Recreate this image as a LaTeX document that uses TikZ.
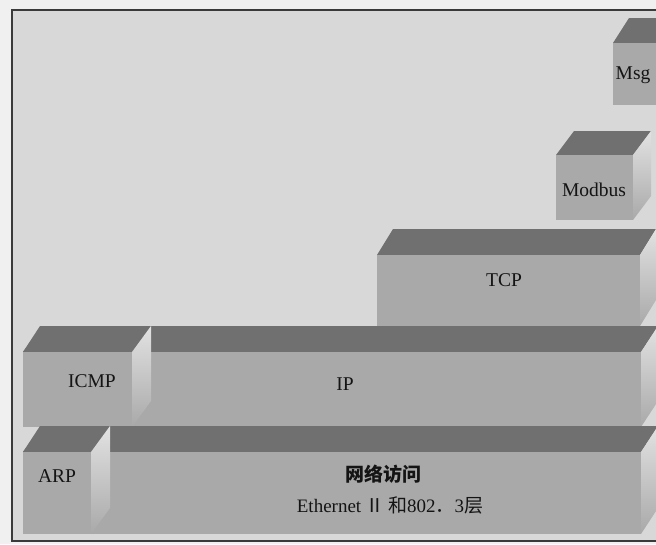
\documentclass[tikz,border=0pt]{standalone}
\usepackage{fontspec}
\setmainfont{Liberation Serif}
\newfontfamily\cjk{Noto Sans CJK SC}
\definecolor{bgcol}{HTML}{D8D8D8}
\definecolor{topcol}{HTML}{707070}
\definecolor{frontcol}{HTML}{A9A9A9}
\definecolor{sidecol}{HTML}{E2E2E2}
\definecolor{framecol}{HTML}{3A3A3A}
\definecolor{txtcol}{HTML}{141414}
\newcommand\mycuboid[6]{% x1 y1 x2 y2 dx dy (y grows downward)
  \fill[topcol] (#1,#2) -- (#1+#5,#2-#6) -- (#3+#5,#2-#6) -- (#3,#2) -- cycle;
  \shade[top color=sidecol,bottom color=frontcol] (#3,#2) -- (#3+#5,#2-#6) -- (#3+#5,#4-#6) -- (#3,#4) -- cycle;
  \fill[frontcol] (#1,#2) rectangle (#3,#4);
}
\tikzset{lbl/.style={text=txtcol,font=\fontsize{19.5}{23}\selectfont,inner sep=0pt}}
\begin{document}
\begin{tikzpicture}[x=1pt,y=-1pt]
\useasboundingbox (0,0) rectangle (656,544);
\clip (0,0) rectangle (656,544);
\fill[white!94!black] (0,0) rectangle (656,544);
\fill[bgcol] (12,10) rectangle (670,541);
% boxes, back to front
\mycuboid{613}{43}{662}{105}{16}{25}
\mycuboid{556}{155}{633}{220}{18}{24}
\mycuboid{377}{255}{640}{326}{16}{26}
\mycuboid{23}{352}{641}{427}{17}{26}
\mycuboid{23}{352}{132}{427}{19}{26}
\mycuboid{23}{452}{641}{534}{17}{26}
\mycuboid{23}{452}{91}{534}{19}{26}
% frame
\draw[framecol,line width=1.6pt] (670,10) -- (12,10) -- (12,541) -- (670,541);
% labels
\node[lbl] (msg) at (633,75) {Msg};
\node[lbl] (modbus) at (594,190) {Modbus};
\node[lbl] (tcp) at (504,280) {TCP};
\node[lbl] (icmp) at (92,381) {ICMP};
\node[lbl] (ip) at (345,384) {IP};
\node[lbl] (arp) at (57,476) {ARP};
\node[lbl,font=\cjk\bfseries\fontsize{19}{22}\selectfont] (na) at (383,474) {网络访问};
\node[lbl,font=\fontsize{19}{22}\selectfont] (eth) at (390,505) {Ethernet {\cjk Ⅱ}\,{\cjk 和}802{\cjk ．}3{\cjk 层}};
\end{tikzpicture}
\end{document}
